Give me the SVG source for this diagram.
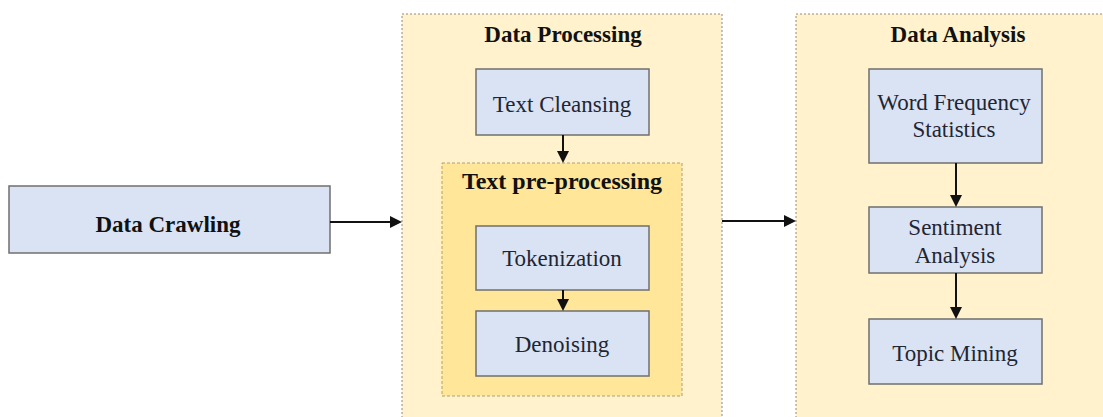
<svg xmlns="http://www.w3.org/2000/svg" width="1103" height="417" viewBox="0 0 1103 417">
<style>
.box{fill:#DAE3F3;stroke:#6f6f6f;stroke-width:1.5}
.cont{fill:#FFF2CC;stroke:#8a8a8a;stroke-width:1;stroke-dasharray:2 2}
.inner{fill:#FFE699;stroke:#b0a070;stroke-width:1;stroke-dasharray:3 2}
.t{font-family:"Liberation Serif","Times New Roman",serif;font-size:23px;fill:#1f2633;text-anchor:middle}
.b{font-family:"Liberation Serif","Times New Roman",serif;font-size:23px;font-weight:bold;fill:#111;text-anchor:middle}
.c{stroke:#111;stroke-width:2;fill:none;marker-end:url(#ah)}
</style>
<defs>
<marker id="ah" markerWidth="6" markerHeight="6" refX="5" refY="3" orient="auto" markerUnits="strokeWidth">
<path d="M0,0 L6,3 L0,6 z" fill="#111"/>
</marker>
</defs>
<rect width="1103" height="417" fill="#fff"/>
<g id="data-processing">
<rect class="cont" x="402" y="14" width="320" height="410"/>
<text class="b" x="563" y="42">Data Processing</text>
</g>
<g id="data-analysis">
<rect class="cont" x="796" y="14" width="320" height="410"/>
<text class="b" x="958" y="42">Data Analysis</text>
</g>
<g id="text-preprocessing">
<rect class="inner" x="442" y="163" width="240" height="233"/>
<text class="b" x="562" y="189" style="font-size:24px">Text pre-processing</text>
</g>
<g id="data-crawling">
<rect class="box" x="9" y="186" width="321" height="67"/>
<text class="b" x="168" y="232">Data Crawling</text>
</g>
<g id="text-cleansing">
<rect class="box" x="476" y="69" width="173" height="66"/>
<text class="t" x="562" y="112">Text Cleansing</text>
</g>
<g id="tokenization">
<rect class="box" x="476" y="226" width="173" height="64"/>
<text class="t" x="562" y="266">Tokenization</text>
</g>
<g id="denoising">
<rect class="box" x="476" y="311" width="173" height="65"/>
<text class="t" x="562" y="352">Denoising</text>
</g>
<g id="word-frequency">
<rect class="box" x="869" y="69" width="173" height="94"/>
<text class="t" x="954" y="110">Word Frequency</text>
<text class="t" x="954" y="137">Statistics</text>
</g>
<g id="sentiment-analysis">
<rect class="box" x="869" y="207" width="173" height="66"/>
<text class="t" x="955" y="235">Sentiment</text>
<text class="t" x="955" y="263">Analysis</text>
</g>
<g id="topic-mining">
<rect class="box" x="869" y="319" width="173" height="65"/>
<text class="t" x="955" y="361">Topic Mining</text>
</g>
<g id="connectors">
<line class="c" x1="330" y1="222" x2="400" y2="222"/>
<line class="c" x1="722" y1="221" x2="794" y2="221"/>
<line class="c" x1="563" y1="135" x2="563" y2="161"/>
<line class="c" x1="563" y1="290" x2="563" y2="309"/>
<line class="c" x1="956" y1="163" x2="956" y2="205"/>
<line class="c" x1="956" y1="273" x2="956" y2="317"/>
</g>
</svg>
